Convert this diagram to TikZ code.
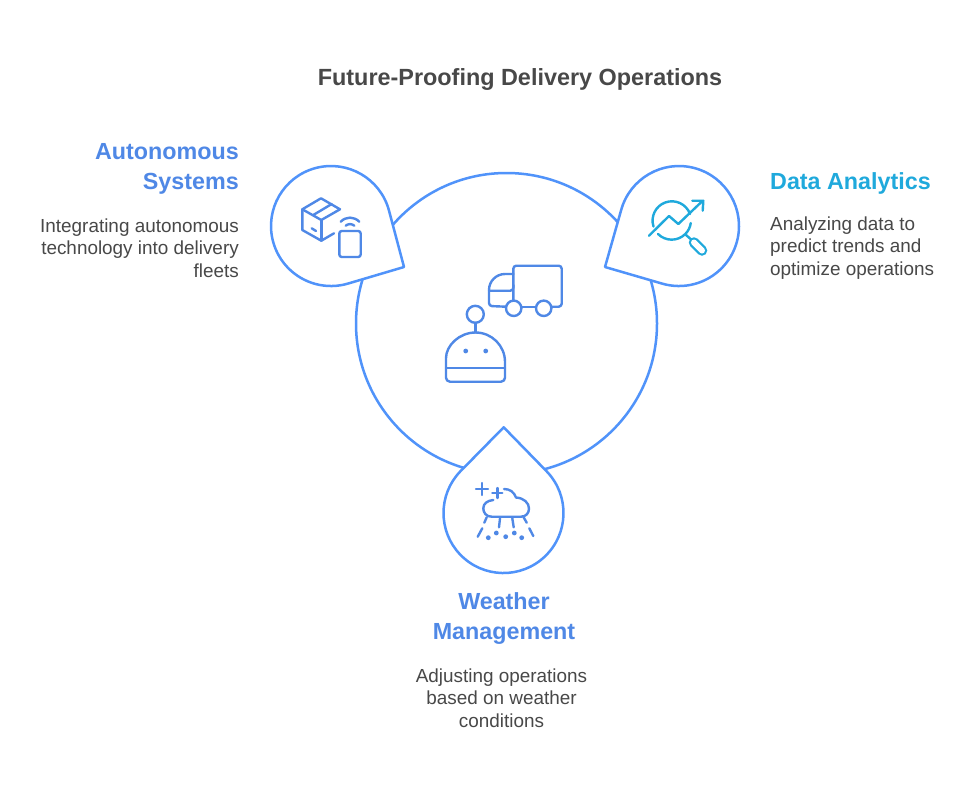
\documentclass[tikz,border=0pt]{standalone}
\usepackage{fontspec}
\setmainfont{Liberation Sans}
\definecolor{linec}{HTML}{5093FA}
\definecolor{iconc}{HTML}{4F88E6}
\definecolor{skyc}{HTML}{1FA9DC}
\definecolor{textc}{HTML}{484848}
\tikzset{
  drop/.style={draw=linec,line width=2.5pt,fill=white,line join=round},
  icon/.style={draw=iconc,line width=2.4pt,line cap=round,line join=round},
  skyicon/.style={draw=skyc,line width=2.4pt,line cap=round,line join=round},
  speck/.style={fill=iconc},
  headtext/.style={inner sep=0pt,font=\fontsize{23.3}{30}\selectfont\bfseries},
  bodytext/.style={inner sep=0pt,text=textc,font=\fontsize{18.9}{22.5}\selectfont}
}
\begin{document}
\begin{tikzpicture}[x=1pt,y=-1pt]
\useasboundingbox[fill=white] (0,0) rectangle (979,798);

% hub and the three drops
\draw[drop] (506.5,323.5) circle [radius=150.5pt];
\draw[drop] (389,210.6) arc [start angle=-14.9,end angle=-286.5,radius=60] -- (404,267) -- cycle;
\draw[drop] (621,210.6) arc [start angle=194.9,end angle=466.5,radius=60] -- (605,267) -- cycle;
\draw[drop] (546.8,471.5) arc [start angle=-43.8,end angle=223.8,radius=60] -- (503.7,427.3) -- cycle;

% truck
\begin{scope}[icon]
    \draw[rounded corners=3pt] (513.3,300) -- (513.3,265.7) -- (561.7,265.7) -- (561.7,306.7) -- (551.4,306.7);
    \draw (536,306.7) -- (521.4,306.7);
    \draw (513.7,308.3) circle [radius=7.7pt];
    \draw (543.7,308.3) circle [radius=7.7pt];
    \draw (513.3,274) -- (505,274) arc [start angle=-90,end angle=-180,radius=16] -- (489,301) [rounded corners=3pt] -- (489,306) -- (506,306.7);
    \draw[rounded corners=3pt] (489,290.7) -- (513.3,290.7) -- (513.3,285);
\end{scope}

% robot
\begin{scope}[icon]
    \draw (475.3,314.3) circle [radius=8.5pt];
    \draw (475.3,322.8) -- (475.3,332.3);
    \draw (446,362) arc [start angle=180,end angle=360,radius=29.5] [rounded corners=4pt] -- (505,381.7) -- (446,381.7) -- cycle;
    \draw (446,367.7) -- (505,367.7);
    \fill[speck,draw=none] (465.7,351) circle [radius=2.4pt];
    \fill[speck,draw=none] (485.7,351) circle [radius=2.4pt];
\end{scope}

% parcel and tag
\begin{scope}[icon]
    \draw (334,233.3) -- (321.3,240.7) -- (302.3,230) -- (302.3,209.3) -- (321,198.3) -- (340,209.3);
    \draw (302.3,209.3) -- (321.3,220) -- (340,209.3);
    \draw (321.3,220) -- (321.3,240.7);
    \draw (313.3,215) -- (331.7,204);
    \draw (311.7,228.3) -- (316,231);
    \draw[rounded corners=2.5pt] (339.3,231) rectangle (360.7,257);
    \draw (340.7,221.7) .. controls (346,216.3) and (354,216.3) .. (359.3,221.7);
    \draw (345.7,225.7) .. controls (348,223.6) and (352,223.6) .. (354.3,225.7);
\end{scope}

% chart and lens
\begin{scope}[skyicon]
    \draw (690,214) arc [start angle=-20,end angle=-198,radius=19.3];
    \draw (658,234) arc [start angle=135,end angle=8,radius=19.3];
    \draw (649,235.7) -- (669,216) -- (678.3,224) -- (701.7,201.7);
    \draw (692.3,200.7) -- (703.3,200.7) -- (702.7,210.7);
    \draw (686,235) -- (691.7,240);
    \draw[line width=10.5pt] (694,242.5) -- (702,250.5);
    \draw[draw=white,line width=6pt] (694,242.5) -- (702,250.5);
\end{scope}

% cloud
\begin{scope}[icon]
    \draw (476,489) -- (488,489);
    \draw (482,483) -- (482,495);
    \draw (492.3,493) -- (502.3,493);
    \draw (497.3,488) -- (497.3,498);
    \draw (504,489) .. controls (510,489) and (514,492) .. (516,497.5) .. controls (524,498) and (529,503) .. (529,508.5) .. controls (529,513) and (526,516.7) .. (521,516.7) -- (491.7,516.7) .. controls (486,516.7) and (483.3,512.5) .. (483.3,508.3) .. controls (483.3,503.5) and (487.5,500.5) .. (493.3,500);
    \draw (486.7,517.3) -- (484.3,522.7);
    \draw (500,518.3) -- (499,527.3);
    \draw (512.3,518.3) -- (513.7,527.3);
    \draw (523.3,516.7) -- (526.7,522.7);
    \draw (482.3,528.3) -- (477.7,536.7);
    \draw (529.3,528.3) -- (533.3,536);
    \foreach \px/\py in {488.3/537.7,496.3/533,505.7/536.7,514.3/533,521.7/537.7}
        \fill[speck,draw=none] (\px,\py) circle [radius=2.4pt];
\end{scope}

% texts
\node[inner sep=0pt,text=textc,font=\fontsize{23.4}{28}\selectfont\bfseries] (title) at (520,79) {Future-Proofing Delivery Operations};
\node[headtext,text=iconc,align=right,anchor=east] (autohead) at (239,168.5) {Autonomous\\Systems};
\node[bodytext,align=right,anchor=east] (autotext) at (239,248) {Integrating autonomous\\technology into delivery\\fleets};
\node[headtext,text=skyc,anchor=west] (datahead) at (770,183) {Data Analytics};
\node[bodytext,align=left,anchor=west] (datatext) at (770,248) {Analyzing data to\\predict trends and\\optimize operations};
\node[headtext,text=iconc,align=center] (weatherhead) at (504,618.5) {Weather\\Management};
\node[bodytext,align=center] (weathertext) at (501.5,698) {Adjusting operations\\based on weather\\conditions};
\end{tikzpicture}
\end{document}
